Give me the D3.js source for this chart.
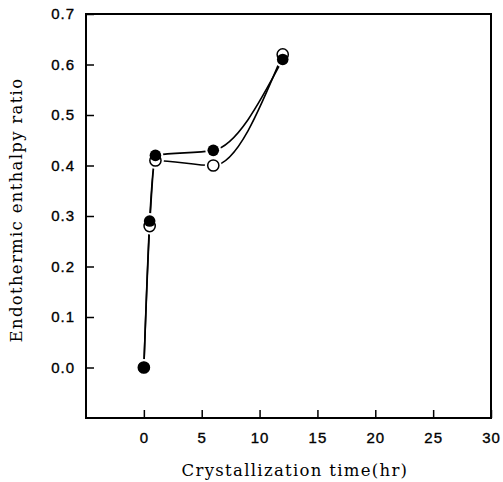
<!DOCTYPE html>
<html>
<head>
<meta charset="utf-8">
<script src="https://cdn.jsdelivr.net/npm/d3@7"></script>
<style>
  body { margin: 0; background: #fff; }
  .tick text { font-family: "Liberation Sans", Arial, sans-serif; font-size: 15px; fill: #000; stroke: #000; stroke-width: 0.35px; letter-spacing: 1px; }
  .title { font-family: "DejaVu Serif", serif; font-size: 16.5px; fill: #000; letter-spacing: 1.3px; }
</style>
</head>
<body>
<div id="chart"></div>
<script>
// crystallization time (hr)
let times = [0, 0.5, 1, 6, 12];
let filledRatio = [0, 0.29, 0.42, 0.43, 0.61];
let openRatio = [0, 0.28, 0.41, 0.40, 0.62];
let xTicks = [0, 5, 10, 15, 20, 25, 30];
let yTicks = [0, 0.1, 0.2, 0.3, 0.4, 0.5, 0.6, 0.7];

let width = 503, height = 482;
let margin = { top: 14, right: 12, bottom: 64, left: 86 };

let x = d3.scaleLinear().domain([-5, 30]).range([margin.left, width - margin.right]);
let y = d3.scaleLinear().domain([-0.1, 0.7]).range([height - margin.bottom, margin.top]);

const svg = d3.select("#chart").append("svg")
  .attr("width", width)
  .attr("height", height);

let openPts = times.map((t, i) => [t, openRatio[i]]);
let filledPts = times.map((t, i) => [t, filledRatio[i]]);

let line = d3.line()
  .x(d => x(d[0]))
  .y(d => y(d[1]))
  .curve(d3.curveMonotoneX);

svg.append("path").attr("d", line(openPts))
  .attr("fill", "none").attr("stroke", "#000").attr("stroke-width", 1.6);
svg.append("path").attr("d", line(filledPts))
  .attr("fill", "none").attr("stroke", "#000").attr("stroke-width", 1.6);

// white halo gives the break in the line next to each marker
svg.selectAll(".openh").data(openPts).enter().append("circle")
  .attr("cx", d => x(d[0])).attr("cy", d => y(d[1])).attr("r", 6.5)
  .attr("fill", "#fff").attr("stroke", "#fff").attr("stroke-width", 4);
svg.selectAll(".filledh").data(filledPts).enter().append("circle")
  .attr("cx", d => x(d[0])).attr("cy", d => y(d[1])).attr("r", 6)
  .attr("fill", "#fff").attr("stroke", "#fff").attr("stroke-width", 4);

svg.selectAll(".openm").data(openPts).enter().append("circle")
  .attr("cx", d => x(d[0])).attr("cy", d => y(d[1])).attr("r", 5.6)
  .attr("fill", "#fff").attr("stroke", "#000").attr("stroke-width", 1.5);
svg.selectAll(".filledm").data(filledPts).enter().append("circle")
  .attr("cx", d => x(d[0])).attr("cy", d => y(d[1])).attr("r", 5.8)
  .attr("fill", "#000");

// frame
svg.append("rect")
  .attr("x", x(-5)).attr("y", y(0.7))
  .attr("width", x(30) - x(-5)).attr("height", y(-0.1) - y(0.7))
  .attr("fill", "none").attr("stroke", "#000").attr("stroke-width", 2);

let xAxis = d3.axisBottom(x).tickValues(xTicks).tickSize(-8).tickPadding(14).tickFormat(d3.format("d"));
let yAxis = d3.axisLeft(y).tickValues(yTicks).tickSize(-8).tickPadding(11).tickFormat(d3.format(".1f"));

svg.append("g")
  .attr("transform", `translate(0 ${y(-0.1)})`)
  .call(xAxis)
  .call(g => g.select(".domain").remove())
  .call(g => g.selectAll(".tick line").attr("stroke-width", 1.5));

svg.append("g")
  .attr("transform", `translate(${x(-5)} 0)`)
  .call(yAxis)
  .call(g => g.select(".domain").remove())
  .call(g => g.selectAll(".tick line").attr("stroke-width", 1.5));

svg.append("text").attr("class", "title")
  .attr("x", 295).attr("y", 476)
  .attr("text-anchor", "middle")
  .text("Crystallization time(hr)");

svg.append("text").attr("class", "title")
  .attr("transform", `translate(22 210) rotate(-90)`)
  .attr("text-anchor", "middle")
  .text("Endothermic enthalpy ratio");
</script>
</body>
</html>
